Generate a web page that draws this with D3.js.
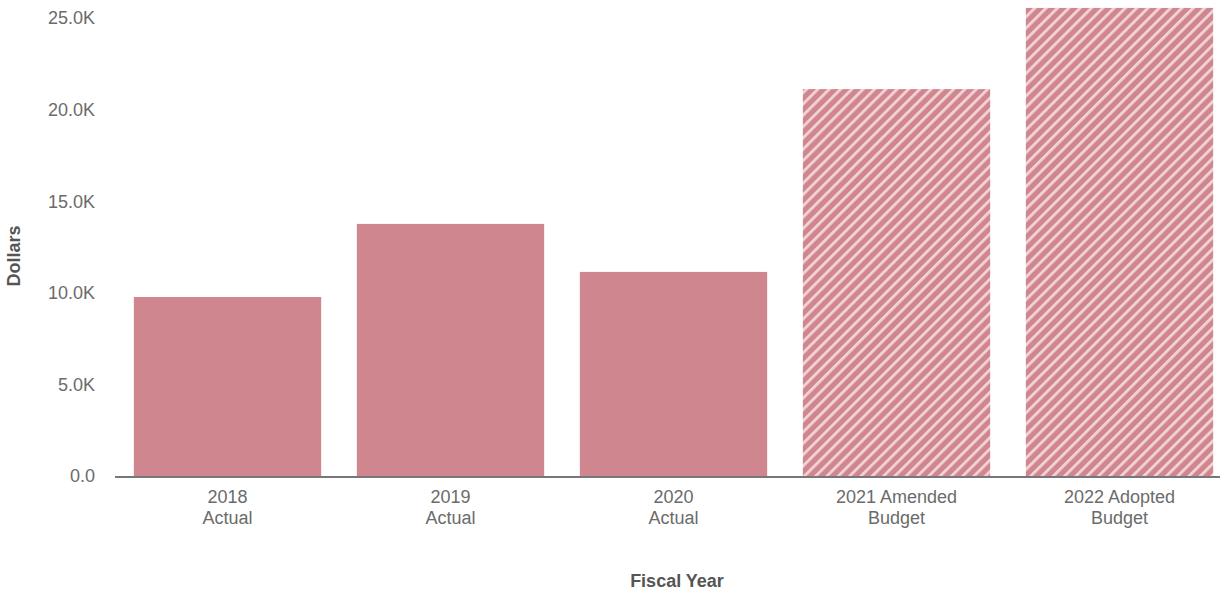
<!DOCTYPE html>
<html>
<head>
<meta charset="utf-8">
<script src="https://cdn.jsdelivr.net/npm/d3@7"></script>
<style>
  html, body { margin: 0; padding: 0; background: #fff; }
  svg { display: block; font-family: "Liberation Sans", Arial, sans-serif; }
</style>
</head>
<body>
<svg id="chart" width="1220" height="594"></svg>
<script>
// Fiscal year spending, actuals vs budgets
const categories = ["2018 Actual", "2019 Actual", "2020 Actual", "2021 Amended Budget", "2022 Adopted Budget"];
const labelLines = [["2018", "Actual"], ["2019", "Actual"], ["2020", "Actual"], ["2021 Amended", "Budget"], ["2022 Adopted", "Budget"]];
const values = [9770, 13760, 11140, 21120, 25550];
const isBudget = [false, false, false, true, true];
const yTicks = [0, 5000, 10000, 15000, 20000, 25000];
const yTickLabels = ["0.0", "5.0K", "10.0K", "15.0K", "20.0K", "25.0K"];

const svg = d3.select("#chart");
const W = 1220, H = 594;
const barColor = "#d0868f";

const x = d3.scaleBand().domain(categories).range([116, 1231]).paddingInner(0.16).paddingOuter(0.08);
const y = d3.scaleLinear().domain([0, 25000]).range([476, 18]);

// Diagonal hatch for budget bars
const defs = svg.append("defs");
const pat = defs.append("pattern")
  .attr("id", "hatch")
  .attr("patternUnits", "userSpaceOnUse")
  .attr("width", 8).attr("height", 8)
  .attr("patternTransform", "rotate(45)");
pat.append("rect").attr("width", 8).attr("height", 8).attr("fill", barColor);
pat.append("rect").attr("x", 0).attr("width", 2.8).attr("height", 8).attr("fill", "#f3d3d6");

// Y tick labels
svg.append("g").selectAll("text").data(yTicks).join("text")
  .attr("x", 95)
  .attr("y", d => y(d))
  .attr("dy", "0.35em")
  .attr("text-anchor", "end")
  .attr("font-size", 18)
  .attr("fill", "#6b6b6b")
  .text((d, i) => yTickLabels[i]);

// Bars
svg.append("g").selectAll("rect").data(categories).join("rect")
  .attr("x", d => x(d))
  .attr("width", x.bandwidth())
  .attr("y", (d, i) => y(values[i]))
  .attr("height", (d, i) => y(0) - y(values[i]))
  .attr("fill", (d, i) => isBudget[i] ? "url(#hatch)" : barColor);

// Baseline
svg.append("line")
  .attr("x1", 115).attr("x2", W)
  .attr("y1", y(0) + 1).attr("y2", y(0) + 1)
  .attr("stroke", "#777").attr("stroke-width", 2);

// X category labels
const xl = svg.append("g").selectAll("text").data(categories).join("text")
  .attr("text-anchor", "middle")
  .attr("font-size", 18)
  .attr("fill", "#6b6b6b");
xl.each(function(d, i) {
  const t = d3.select(this);
  labelLines[i].forEach((line, j) => {
    t.append("tspan")
      .attr("x", x(d) + x.bandwidth() / 2)
      .attr("y", 503 + j * 21)
      .text(line);
  });
});

// Axis titles
svg.append("text")
  .attr("x", 677).attr("y", 587)
  .attr("text-anchor", "middle")
  .attr("font-size", 18).attr("font-weight", "bold")
  .attr("fill", "#555")
  .text("Fiscal Year");

svg.append("text")
  .attr("transform", "translate(20,256) rotate(-90)")
  .attr("text-anchor", "middle")
  .attr("font-size", 18).attr("font-weight", "bold")
  .attr("fill", "#555")
  .text("Dollars");
</script>
</body>
</html>
